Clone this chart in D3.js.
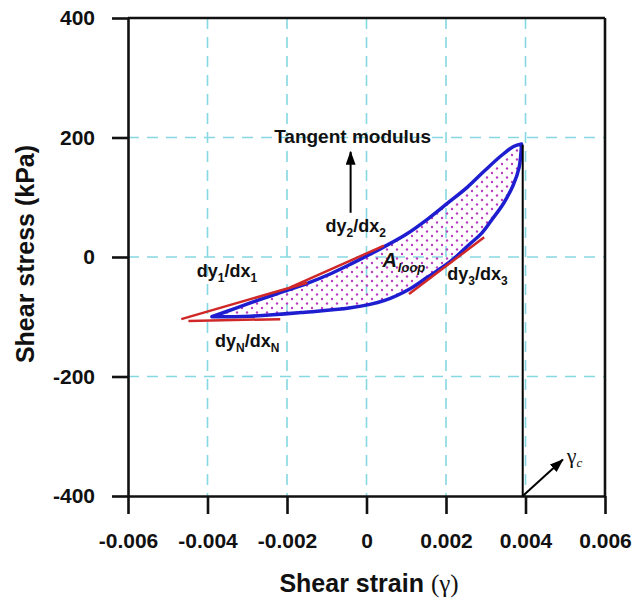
<!DOCTYPE html>
<html>
<head>
<meta charset="utf-8">
<script src="https://cdn.jsdelivr.net/npm/d3@7"></script>
<style>
  body { margin: 0; background: #fff; }
</style>
</head>
<body>
<div class="chart__container"></div>
<script>
//data
const X_TICKS = [-0.006, -0.004, -0.002, 0, 0.002, 0.004, 0.006];
const Y_TICKS = [-400, -200, 0, 200, 400];
const GRID_X = [-0.004, -0.002, 0, 0.002, 0.004];
const GRID_Y = [-200, 0, 200];

// loading branch (left tip -> right tip)
const upperStrain = [-0.00389, -0.00330, -0.00267, -0.00210, -0.00149, -0.00090, -0.00040, 0.00044, 0.00100, 0.00153, 0.00200, 0.00254, 0.00295, 0.00338, 0.00370, 0.00390];
const upperStress = [-100, -86, -71, -58, -44, -28, -12, 17, 38, 63, 88, 117, 143, 169, 185, 189];

// unloading branch (right tip -> left tip)
const lowerStrain = [0.00390, 0.00384, 0.00369, 0.00345, 0.00315, 0.00290, 0.00262, 0.00212, 0.00153, 0.00110, 0.00044, -0.00040, -0.00166, -0.00292, -0.00389];
const lowerStress = [189, 150, 120, 90, 62, 40, 23, -7, -34, -53, -73, -85, -93, -99, -100];

// tangent lines [start, end]
const tangentStrain = [[-0.00466, -0.00149], [-0.00192, 0.00044], [-0.00448, -0.00217], [0.00107, 0.00296]];
const tangentStress = [[-104, -43], [-51, 19], [-107, -104], [-62, 33]];

const GAMMA_C = 0.00393;

/*-----------------------------------init-----------------------------------*/
const WIDTH = 644;
const HEIGHT = 604;
const BLUE = "#1e1ed0";
const RED = "#d02828";
const GRID = "#86d8e2";
const SANS = "'Liberation Sans', Arial, sans-serif";
const SERIF = "'Liberation Serif', 'Times New Roman', serif";

const x = d3.scaleLinear().domain([-0.006, 0.006]).range([128, 605]);
const y = d3.scaleLinear().domain([-400, 400]).range([496, 18]);

const svg = d3.select(".chart__container").append("svg")
    .attr("width", WIDTH)
    .attr("height", HEIGHT)
    .attr("font-family", SANS)
    .attr("font-weight", "bold")
    .style("background", "#fff");

const defs = svg.append("defs");

const pattern = defs.append("pattern")
    .attr("id", "dots")
    .attr("patternUnits", "userSpaceOnUse")
    .attr("width", 10)
    .attr("height", 9);
pattern.append("circle").attr("cx", 2).attr("cy", 2).attr("r", 1.2).attr("fill", "#b93cc0");
pattern.append("circle").attr("cx", 7).attr("cy", 6.5).attr("r", 1.2).attr("fill", "#b93cc0");

defs.append("marker")
    .attr("id", "arrow")
    .attr("markerUnits", "userSpaceOnUse")
    .attr("viewBox", "0 0 14 10")
    .attr("refX", 13).attr("refY", 5)
    .attr("markerWidth", 14).attr("markerHeight", 10)
    .attr("orient", "auto")
    .append("path")
    .attr("d", "M0,0 L14,5 L0,10 z")
    .attr("fill", "#000");

//grid
const grid = svg.append("g");
grid.selectAll(".gx").data(GRID_X).enter().append("line")
    .attr("x1", d => x(d)).attr("x2", d => x(d))
    .attr("y1", y(400)).attr("y2", y(-400))
    .attr("stroke", GRID).attr("stroke-width", 1.6).attr("stroke-dasharray", "11,8");
grid.selectAll(".gy").data(GRID_Y).enter().append("line")
    .attr("y1", d => y(d)).attr("y2", d => y(d))
    .attr("x1", x(-0.006)).attr("x2", x(0.006))
    .attr("stroke", GRID).attr("stroke-width", 1.6).attr("stroke-dasharray", "11,8");

//loop
const line = d3.line().x(d => x(d[0])).y(d => y(d[1])).curve(d3.curveCatmullRom.alpha(0.5));
const upperPts = upperStrain.map((v, i) => [v, upperStress[i]]);
const lowerPts = lowerStrain.map((v, i) => [v, lowerStress[i]]);
const loopPath = line(upperPts) + "L" + line(lowerPts).slice(1) + "Z";

svg.append("path")
    .attr("d", loopPath)
    .attr("fill", "url(#dots)")
    .attr("stroke", BLUE)
    .attr("stroke-width", 3.5)
    .attr("stroke-linejoin", "round");

//tangents
svg.append("g").selectAll("line")
    .data(tangentStrain)
    .enter()
    .append("line")
    .attr("x1", d => x(d[0])).attr("x2", d => x(d[1]))
    .attr("y1", (d, i) => y(tangentStress[i][0]))
    .attr("y2", (d, i) => y(tangentStress[i][1]))
    .attr("stroke", RED).attr("stroke-width", 2.5);

//gamma_c vertical line
svg.append("line")
    .attr("x1", x(GAMMA_C)).attr("x2", x(GAMMA_C))
    .attr("y1", y(188)).attr("y2", y(-400))
    .attr("stroke", "#000").attr("stroke-width", 2);

//axes
const yAxis = d3.axisLeft(y).tickValues(Y_TICKS).tickSize(16).tickSizeOuter(0).tickPadding(17).tickFormat(d => String(d));
const xAxis = d3.axisBottom(x).tickValues(X_TICKS).tickSize(18).tickSizeOuter(0).tickPadding(19)
    .tickFormat(d => d === 0 ? "0" : d.toFixed(3));

const gy = svg.append("g").attr("transform", `translate(${x(-0.006)},0)`).call(yAxis);
const gx = svg.append("g").attr("transform", `translate(0,${y(-400)})`).call(xAxis);

[gx, gy].forEach(g => {
    g.attr("font-family", SANS).attr("font-size", 21).attr("font-weight", "bold");
    g.selectAll("path, line").attr("stroke", "#111").attr("stroke-width", 2.6);
    g.selectAll("text").attr("fill", "#111");
});

// top and right frame
svg.append("line").attr("x1", x(-0.006)).attr("x2", x(0.006)).attr("y1", y(400)).attr("y2", y(400))
    .attr("stroke", "#111").attr("stroke-width", 2.6);
svg.append("line").attr("x1", x(0.006)).attr("x2", x(0.006)).attr("y1", y(400)).attr("y2", y(-400))
    .attr("stroke", "#111").attr("stroke-width", 2.6);

//axis titles
svg.append("text")
    .attr("transform", "translate(34,254) rotate(-90)")
    .attr("text-anchor", "middle")
    .attr("font-size", 25)
    .attr("fill", "#111")
    .text("Shear stress (kPa)");

const xt = svg.append("text")
    .attr("x", 369).attr("y", 592)
    .attr("text-anchor", "middle")
    .attr("font-size", 25)
    .attr("fill", "#111");
xt.append("tspan").text("Shear strain ");
xt.append("tspan").attr("font-family", SERIF).attr("font-weight", "normal").text("(γ)");

//annotations
const slopeLabels = [
    { sub: "1", sx: -0.00427, sy: -34 },
    { sub: "2", sx: -0.00103, sy: 42 },
    { sub: "3", sx: 0.00203, sy: -38 },
    { sub: "N", sx: -0.00381, sy: -150 }
];

slopeLabels.forEach(l => {
    const t = svg.append("text").attr("x", x(l.sx)).attr("y", y(l.sy)).attr("font-size", 18).attr("fill", "#111");
    t.append("tspan").text("dy");
    t.append("tspan").attr("font-size", 12).attr("dy", 5).text(l.sub);
    t.append("tspan").attr("dy", -5).text("/dx");
    t.append("tspan").attr("font-size", 12).attr("dy", 5).text(l.sub);
});

const aLoop = svg.append("text").attr("x", x(0.0004)).attr("y", y(-17)).attr("font-style", "italic").attr("font-size", 20).attr("fill", "#111");
aLoop.append("tspan").text("A");
aLoop.append("tspan").attr("font-size", 13).attr("dy", 5).attr("dx", 1).text("loop");

svg.append("text")
    .attr("x", x(-0.00035)).attr("y", y(191))
    .attr("text-anchor", "middle")
    .attr("font-size", 19)
    .attr("fill", "#111")
    .text("Tangent modulus");

svg.append("line")
    .attr("x1", x(-0.0004)).attr("x2", x(-0.0004))
    .attr("y1", y(74)).attr("y2", y(176))
    .attr("stroke", "#000").attr("stroke-width", 2)
    .attr("marker-end", "url(#arrow)");

svg.append("line")
    .attr("x1", x(GAMMA_C)).attr("x2", x(0.00494))
    .attr("y1", y(-400)).attr("y2", y(-339))
    .attr("stroke", "#000").attr("stroke-width", 2)
    .attr("marker-end", "url(#arrow)");

const gc = svg.append("text").attr("x", x(0.00504)).attr("y", y(-345))
    .attr("font-family", SERIF).attr("font-weight", "normal").attr("font-size", 22).attr("fill", "#111");
gc.append("tspan").text("γ");
gc.append("tspan").attr("font-style", "italic").attr("font-size", 13).attr("dy", 4).text("c");
</script>
</body>
</html>
